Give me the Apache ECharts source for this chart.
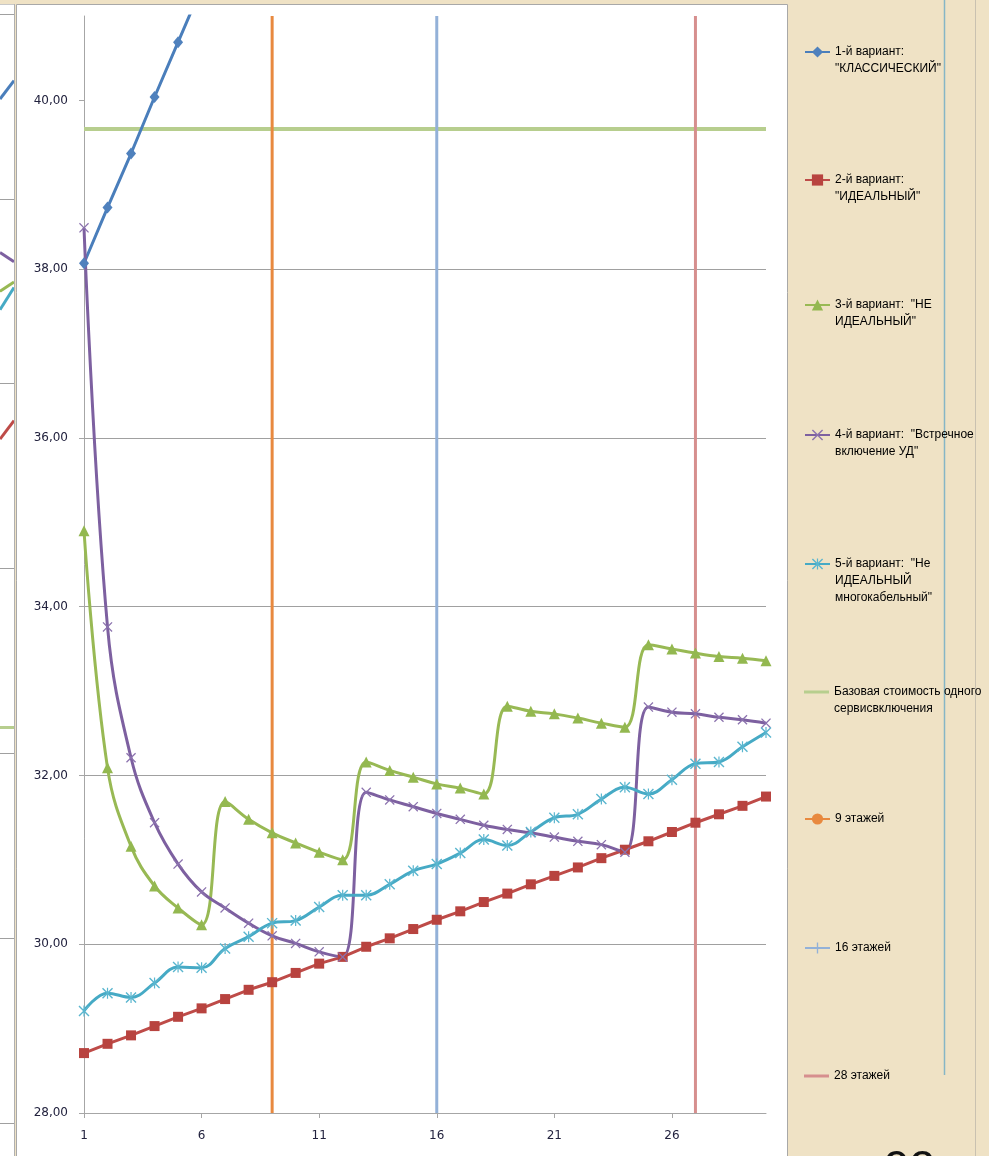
<!DOCTYPE html>
<html>
<head>
<meta charset="utf-8">
<script src="https://cdn.jsdelivr.net/npm/echarts@6/dist/echarts.min.js"></script>
<style>
  html, body { margin: 0; padding: 0; background: #EFE2C5; }
  #chart { width: 989px; height: 1156px; }
</style>
</head>
<body>
<div id="chart"></div>
<script>
// ---- data ----
const CATEGORIES = ['1','2','3','4','5','6','7','8','9','10','11','12','13','14','15',
  '16','17','18','19','20','21','22','23','24','25','26','27','28','29','30'];
const Y_TICKS = [28, 30, 32, 34, 36, 38, 40];

const V1_CLASSIC = [38.07, 38.73, 39.37, 40.04, 40.69, 41.34];
const V2_IDEAL = [28.71, 28.82, 28.92, 29.03, 29.14, 29.24, 29.35, 29.46, 29.55, 29.66,
  29.77, 29.85, 29.97, 30.07, 30.18, 30.29, 30.39, 30.50, 30.60, 30.71,
  30.81, 30.91, 31.02, 31.12, 31.22, 31.33, 31.44, 31.54, 31.64, 31.75];
const V3_NOT_IDEAL = [34.90, 32.09, 31.16, 30.69, 30.43, 30.23, 31.69, 31.48, 31.32, 31.20,
  31.09, 31.00, 32.16, 32.06, 31.98, 31.90, 31.85, 31.78, 32.82, 32.76,
  32.73, 32.68, 32.62, 32.57, 33.55, 33.50, 33.45, 33.41, 33.39, 33.36];
const V4_COUNTER = [38.49, 33.76, 32.21, 31.44, 30.95, 30.62, 30.43, 30.25, 30.10, 30.01,
  29.91, 29.85, 31.80, 31.71, 31.63, 31.55, 31.48, 31.41, 31.36, 31.32,
  31.27, 31.22, 31.18, 31.09, 32.81, 32.75, 32.73, 32.69, 32.66, 32.62];
const V5_MULTICABLE = [29.21, 29.42, 29.37, 29.54, 29.73, 29.72, 29.95, 30.09, 30.25, 30.28,
  30.44, 30.58, 30.58, 30.71, 30.87, 30.95, 31.08, 31.24, 31.17, 31.33,
  31.50, 31.54, 31.72, 31.86, 31.78, 31.95, 32.14, 32.16, 32.34, 32.51];
const BASE_COST = 39.66;
const FLOOR_9 = '9';
const FLOOR_16 = '16';
const FLOOR_28 = '27';

// neighbouring chart (its right edge only), in its own units
const PREV_BLUE = [5.54, 5.64];
const PREV_PURPLE = [4.71, 4.66];
const PREV_GREEN = [4.50, 4.55];
const PREV_TEAL = [4.40, 4.52];
const PREV_RED = [3.70, 3.80];
const PREV_BASE = [2.14, 2.14];

const NAMES = [
  '1-й вариант: "КЛАССИЧЕСКИЙ"',
  '2-й вариант: "ИДЕАЛЬНЫЙ"',
  '3-й вариант:  "НЕ ИДЕАЛЬНЫЙ"',
  '4-й вариант:  "Встречное включение УД"',
  '5-й вариант:  "Не ИДЕАЛЬНЫЙ многокабельный"',
  'Базовая стоимость одного сервисвключения',
  '9 этажей',
  '16 этажей',
  '28 этажей'
];
const LEGEND_TEXT = [
  '1-й вариант:\n"КЛАССИЧЕСКИЙ"',
  '2-й вариант:\n"ИДЕАЛЬНЫЙ"',
  '3-й вариант:  "НЕ\nИДЕАЛЬНЫЙ"',
  '4-й вариант:  "Встречное\nвключение УД"',
  '5-й вариант:  "Не\nИДЕАЛЬНЫЙ\nмногокабельный"',
  'Базовая стоимость одного\nсервисвключения',
  '9 этажей',
  '16 этажей',
  '28 этажей'
];

// ---- styles ----
const C = {
  blue: '#4A7EBB', blueM: '#4F81BD',
  red: '#BE4B48', redM: '#B8433F',
  green: '#98B954', greenM: '#93B850',
  purple: '#7D60A0', purpleM: '#8B72AE',
  teal: '#46AAC5', tealM: '#5AB6CF',
  base: '#B7CE8E',
  orange: '#E8893F',
  lblue: '#93B1D8',
  pink: '#D68F8E',
  grid: '#A0A0A0',
  axis: '#A6A6A6',
  label: '#22223E'
};
const X_PATH = 'path://M0,0.9L0.9,0L5,4.1L9.1,0L10,0.9L5.9,5L10,9.1L9.1,10L5,5.9L0.9,10L0,9.1L4.1,5Z';
const STAR_PATH = X_PATH + 'M4.45,0L5.55,0L5.55,10L4.45,10Z';
const PLUS_PATH = 'path://M4.4,0L5.6,0L5.6,4.4L10,4.4L10,5.6L5.6,5.6L5.6,10L4.4,10L4.4,5.6L0,5.6L0,4.4L4.4,4.4Z';

const chart = echarts.init(document.getElementById('chart'), null, { renderer: 'canvas' });

function mainLine(name, data, color, mColor, symbol, size, smooth) {
  return {
    name, type: 'line', xAxisIndex: 0, yAxisIndex: 0, data,
    smooth: smooth, symbol, symbolSize: size, showSymbol: true,
    lineStyle: { color, width: 3 },
    itemStyle: { color: mColor, borderWidth: 0 },
    z: 3, animation: false, clip: true
  };
}
function vLine(name, at, color, symbol) {
  return {
    name, type: 'line', xAxisIndex: 0, yAxisIndex: 0,
    data: [[at, 28], [at, 41]],
    symbol, symbolSize: 8, showSymbol: false,
    lineStyle: { color, width: 3 }, itemStyle: { color },
    z: 2, animation: false
  };
}
function prevLine(data, color) {
  return {
    type: 'line', xAxisIndex: 1, yAxisIndex: 1,
    data: [[0, data[0]], [1, data[1]]],
    showSymbol: false, lineStyle: { color, width: 3 },
    z: 2, animation: false, silent: true
  };
}

// legend: one block per entry, first text line level with the icon
const LEGEND_CENTERS = [52, 180, 305, 435, 564, 692, 819, 948, 1076];
const LINE_H = 17;
const legends = NAMES.map((name, i) => {
  const n = LEGEND_TEXT[i].split('\n').length;
  const plain = (i === 5 || i === 8);
  return {
    data: [name],
    left: 804,
    top: LEGEND_CENTERS[i] - (2 * n - 1) * LINE_H / 2,
    padding: 0,
    orient: 'vertical',
    selectedMode: false,
    icon: plain ? 'rect' : undefined,
    itemWidth: 25,
    itemHeight: plain ? 3 : 14,
    lineStyle: { width: 2 },
    formatter: () => '\n'.repeat(n - 1) + LEGEND_TEXT[i],
    textStyle: {
      fontFamily: '"Liberation Sans Narrow", "Liberation Sans", Arial, sans-serif',
      fontSize: 12, lineHeight: LINE_H, color: '#000000'
    }
  };
});

const option = {
  backgroundColor: '#EFE2C5',
  animation: false,
  grid: [
    { left: 84, top: 16, width: 682, height: 1097, show: false },
    { left: 0, top: 14, width: 14, height: 1109, show: false }
  ],
  xAxis: [
    {
      type: 'category', data: CATEGORIES, boundaryGap: false, gridIndex: 0,
      axisLine: { show: true, lineStyle: { color: C.axis, width: 1 } },
      axisTick: { show: true, interval: 4, length: 5, lineStyle: { color: C.axis } },
      axisLabel: { interval: 4, margin: 17, fontFamily: 'DejaVu Sans', fontSize: 12, color: C.label },
      splitLine: { show: false }
    },
    { type: 'value', gridIndex: 1, min: 0, max: 1, show: false }
  ],
  yAxis: [
    {
      type: 'value', gridIndex: 0, min: 28, max: 41, interval: 2,
      axisLine: { show: true, lineStyle: { color: C.axis, width: 1 } },
      axisTick: { show: true, length: 5, customValues: Y_TICKS, lineStyle: { color: C.axis } },
      axisLabel: {
        customValues: Y_TICKS, margin: 16,
        fontFamily: 'DejaVu Sans', fontSize: 12, color: C.label,
        formatter: v => v > 40 ? '' : v.toFixed(2).replace('.', ',')
      },
      splitLine: { show: true, showMaxLine: false, lineStyle: { color: C.grid, width: 1 } }
    },
    {
      type: 'value', gridIndex: 1, min: 0, max: 6, interval: 1,
      axisLine: { show: false }, axisTick: { show: false }, axisLabel: { show: false },
      splitLine: { show: true, lineStyle: { color: C.grid, width: 1 } }
    }
  ],
  legend: legends,
  series: [
    {
      name: NAMES[5], type: 'line', xAxisIndex: 0, yAxisIndex: 0,
      data: [[CATEGORIES[0], BASE_COST], [CATEGORIES[CATEGORIES.length - 1], BASE_COST]],
      showSymbol: false, symbol: 'none',
      lineStyle: { color: C.base, width: 4 }, itemStyle: { color: C.base },
      z: 1, animation: false
    },
    vLine(NAMES[6], FLOOR_9, C.orange, 'circle'),
    vLine(NAMES[7], FLOOR_16, C.lblue, PLUS_PATH),
    vLine(NAMES[8], FLOOR_28, C.pink, 'none'),
    mainLine(NAMES[0], V1_CLASSIC, C.blue, C.blueM, 'diamond', [10, 12], false),
    mainLine(NAMES[1], V2_IDEAL, C.red, C.redM, 'rect', 10, false),
    mainLine(NAMES[2], V3_NOT_IDEAL, C.green, C.greenM, 'triangle', 11, 0.4),
    mainLine(NAMES[3], V4_COUNTER, C.purple, C.purpleM, X_PATH, 10, 0.4),
    mainLine(NAMES[4], V5_MULTICABLE, C.teal, C.tealM, STAR_PATH, 11, 0.4),
    prevLine(PREV_BASE, C.base),
    prevLine(PREV_RED, C.red),
    prevLine(PREV_TEAL, C.teal),
    prevLine(PREV_GREEN, C.green),
    prevLine(PREV_PURPLE, C.purple),
    prevLine(PREV_BLUE, C.blue)
  ],
  graphic: [
    { type: 'rect', z: -20, silent: true, shape: { x: 0, y: 4, width: 14, height: 1152 }, style: { fill: '#FFFFFF' } },
    { type: 'line', z: 10, silent: true, shape: { x1: 14.5, y1: 4, x2: 14.5, y2: 1156 }, style: { stroke: '#B0B0B0', lineWidth: 1 } },
    { type: 'line', z: 10, silent: true, shape: { x1: 0, y1: 4.5, x2: 14, y2: 4.5 }, style: { stroke: '#C8C8C8', lineWidth: 1 } },
    { type: 'rect', z: -20, silent: true, shape: { x: 16.5, y: 4.5, width: 771, height: 1160 }, style: { fill: '#FFFFFF', stroke: '#A8A8A8', lineWidth: 1 } },
    { type: 'line', z: 1, silent: true, shape: { x1: 944.5, y1: 0, x2: 944.5, y2: 1075 }, style: { stroke: '#86B6C6', lineWidth: 1.5 } },
    { type: 'line', z: 1, silent: true, shape: { x1: 975.5, y1: 0, x2: 975.5, y2: 1156 }, style: { stroke: '#C9C1B0', lineWidth: 1 } },
    { type: 'text', z: 10, silent: true, x: 884, y: 1147,
      style: { text: '92', fontFamily: 'Liberation Sans', fontSize: 46, fill: '#111111', textVerticalAlign: 'top' } }
  ]
};

chart.setOption(option);
</script>
</body>
</html>
